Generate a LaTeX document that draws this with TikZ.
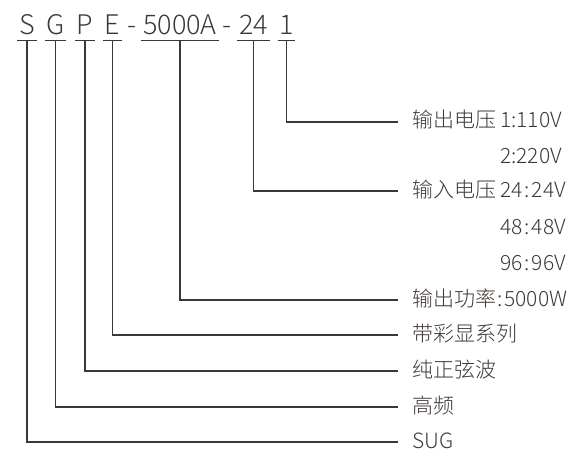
\documentclass[tikz,border=0pt]{standalone}
\usepackage{fontspec}
\setmainfont{Noto Sans CJK SC Light}
\usetikzlibrary{positioning}
\definecolor{inkgray}{RGB}{62,56,53}

\begin{document}
\begin{tikzpicture}[x=1pt, y=-1pt,
    code/.style={anchor=base, inner xsep=1.5pt, inner ysep=5pt, text depth=0pt,
        font=\fontsize{27}{30}\selectfont, text=inkgray},
    lab/.style={anchor=west, inner xsep=14pt, inner ysep=0pt, text height=15pt, text depth=3pt,
        font=\fontsize{21}{24}\selectfont, text=inkgray},
    val/.style={lab, inner xsep=0pt},
    link/.style={line width=1.1pt, draw=inkgray}]
    \useasboundingbox (0, 0) rectangle (571, 452);

    % model code
    \node[code](cS) at (27, 35){S};
    \node[code](cG) at (55.5, 35){G};
    \node[code](cP) at (85, 35){P};
    \node[code](cE) at (112.5, 35){E};
    \node[code](d1) at (131.5, 35){-};
    \node[code](cW) at (180, 35){5000A};
    \node[code](d2) at (226.5, 35){-};
    \node[code](cIn) at (253.5, 35){24};
    \node[code](cOut) at (286.5, 35){1};
    \foreach \c in {cS, cG, cP, cE, cW, cIn, cOut}
        \draw[link](\c.south west)--(\c.south east);

    % meanings
    \node[lab](lOut) at (398, 122){输出电压};
    \node[lab](lIn) at (398, 191){输入电压};
    \node[lab](lW) at (398, 300){输出功率\hspace{1.5pt}:\hspace{1.5pt}5000W};
    \node[lab](lE) at (398, 335){带彩显系列};
    \node[lab](lP) at (398, 371){纯正弦波};
    \node[lab](lG) at (398, 407){高频};
    \node[lab](lS) at (398, 442){SUG};

    \node[val](v1) at (500, 122){1:110V};
    \node[val](v2) at (500, 158){2:220V};
    \node[val](v24) at (500, 191){24\hspace{2pt}:\hspace{2pt}24V};
    \node[val](v48) at (500, 228){48\hspace{2pt}:\hspace{2pt}48V};
    \node[val](v96) at (500, 264){96\hspace{2pt}:\hspace{2pt}96V};

    \draw[link](cOut.south)|-(lOut.west);
    \draw[link](cIn.south)|-(lIn.west);
    \draw[link](cW.south)|-(lW.west);
    \draw[link](cE.south)|-(lE.west);
    \draw[link](cP.south)|-(lP.west);
    \draw[link](cG.south)|-(lG.west);
    \draw[link](cS.south)|-(lS.west);
\end{tikzpicture}
\end{document}
